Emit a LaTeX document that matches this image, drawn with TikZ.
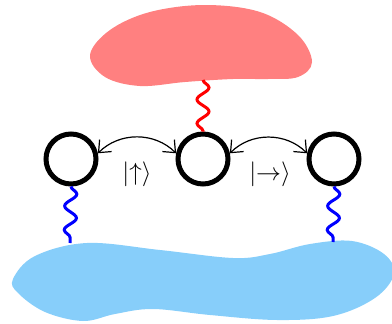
\documentclass[tikz,border=0pt]{standalone}
\usetikzlibrary{decorations.pathmorphing,arrows.meta}
\definecolor{blobred}{RGB}{255,128,128}
\definecolor{blobblue}{RGB}{135,206,250}
\begin{document}
\begin{tikzpicture}[x=1pt,y=-1pt,
  site/.style={circle,draw=black,line width=5pt,minimum size=50pt,inner sep=0pt},
  wig/.style={line width=3pt,decorate,decoration={snake,segment length=24pt,amplitude=6pt}},
  hop/.style={line width=1.2pt,{Straight Barb[length=10pt,width=17pt]}-{Straight Barb[length=10pt,width=17pt]}},
  lab/.style={font=\fontsize{24}{28}\selectfont}]
\useasboundingbox (0,0) rectangle (392,324);
% blobs
\fill[blobred] plot[smooth cycle,tension=0.6] coordinates {(90,55) (110,30) (150,12) (205,5) (260,12) (298,35) (312,62) (298,77) (268,79) (233,79) (185,82) (140,86) (105,77)};
\fill[blobblue] plot[smooth cycle,tension=0.6] coordinates {(13,279) (35,256) (87,243) (160,250) (233,258) (270,254) (310,244) (352,241) (384,254) (394,274) (375,298) (333,316) (277,320) (210,315) (153,309) (115,314) (83,321) (45,312) (18,293)};
\coordinate (rtop) at (203,80);
\coordinate (bl) at (70,243);
\coordinate (br) at (333,242);
% sites
\node[site] (L) at (71,159) {};
\node[site] (M) at (203,159) {};
\node[site] (R) at (334,159) {};
% couplings
\draw[red,wig] (rtop) -- (M.north);
\draw[blue,wig] (L.south) -- (bl);
\draw[blue,wig] (R.south) -- (br);
% hopping arrows
\draw[hop] (L.12) to[bend left=45] (M.168);
\draw[hop] (M.12) to[bend left=45] (R.168);
\node[lab] (l1) at (137,174) {$|{\uparrow}\rangle$};
\node[lab] (l2) at (270,174) {$|{\rightarrow}\rangle$};
\end{tikzpicture}
\end{document}
